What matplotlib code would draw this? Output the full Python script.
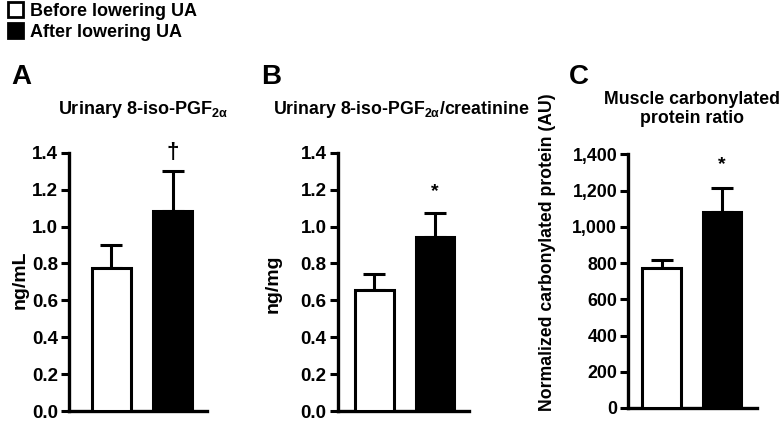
import matplotlib
matplotlib.use("Agg")
import matplotlib.pyplot as plt
from matplotlib.patches import Patch
from matplotlib.ticker import FuncFormatter

plt.rcParams['font.family'] = ['Liberation Sans', 'DejaVu Sans']
plt.rcParams['font.weight'] = 'bold'
plt.rcParams['mathtext.default'] = 'regular'

groups = ["Before lowering UA", "After lowering UA"]
colors = ["white", "black"]

a_means = [0.777, 1.086]
a_err = [0.125, 0.215]
b_means = [0.655, 0.945]
b_err = [0.09, 0.128]
c_means = [772, 1082]
c_err = [42, 133]

a_ticks = [0.0, 0.2, 0.4, 0.6, 0.8, 1.0, 1.2, 1.4]
c_ticks = [0, 200, 400, 600, 800, 1000, 1200, 1400]

W, H = 780, 422
fig = plt.figure(figsize=(7.8, 4.22), dpi=100)

def fx(px):
    return px / W

def fy(py):
    return 1 - py / H

def make_ax(left, right, top, bottom):
    return fig.add_axes([fx(left), fy(bottom), fx(right) - fx(left), fy(top) - fy(bottom)])

axA = make_ax(69, 207, 152.7, 411)
axB = make_ax(337.7, 469, 152.7, 411)
axC = make_ax(628.3, 757, 154.3, 408)

def draw(ax, means, errs, ymax, ticks, xlim, mark, mark_y, mark_size, fmt, tsize):
    x = [0, 1]
    ax.bar(x, means, width=0.64, color=colors, edgecolor="black", linewidth=2.2, zorder=3)
    ax.errorbar(x, means, yerr=[[0, 0], errs], fmt='none', ecolor='black',
                elinewidth=2.2, capsize=8, capthick=2.2, zorder=2)
    ax.set_ylim(0, ymax)
    ax.set_xlim(*xlim)
    ax.set_yticks(ticks)
    ax.yaxis.set_major_formatter(FuncFormatter(fmt))
    ax.set_xticks([])
    for s in ["top", "right"]:
        ax.spines[s].set_visible(False)
    for s in ["left", "bottom"]:
        ax.spines[s].set_linewidth(2.4)
    ax.tick_params(axis='y', length=6, width=2.2, labelsize=tsize, pad=2)
    for lab in ax.get_yticklabels():
        lab.set_fontweight('bold')
    ax.text(1, mark_y, mark, ha='center', va='center', fontsize=mark_size, fontweight='bold')
    ax.patch.set_visible(False)

draw(axA, a_means, a_err, 1.4, a_ticks, (-0.69, 1.56), "†", 1.40, 16, lambda v, p: f"{v:.1f}", 13.5)
draw(axB, b_means, b_err, 1.4, a_ticks, (-0.6, 1.56), "*", 1.19, 14, lambda v, p: f"{v:.1f}", 13.5)
draw(axC, c_means, c_err, 1400, c_ticks, (-0.55, 1.58), "*", 1345, 14, lambda v, p: f"{int(v):,}", 12.8)

fig.text(fx(20), fy(280), "ng/mL", rotation=90, ha='center', va='center', fontsize=14, fontweight='bold')
fig.text(fx(273), fy(284), "ng/mg", rotation=90, ha='center', va='center', fontsize=14, fontweight='bold')
fig.text(fx(548), fy(252), "Normalized carbonylated protein (AU)", rotation=90, ha='center', va='center',
         fontsize=12.7, fontweight='bold')

fig.text(fx(143), fy(109), "Urinary 8-iso-PGF$_{2α}$", ha='center', va='center', fontsize=13, fontweight='bold')
fig.text(fx(401), fy(109), "Urinary 8-iso-PGF$_{2α}$/creatinine", ha='center', va='center', fontsize=12.8, fontweight='bold')
fig.text(fx(692), fy(109), "Muscle carbonylated\nprotein ratio", ha='center', va='center', fontsize=12.8, fontweight='bold', linespacing=1.15)

fig.text(fx(11), fy(77), "A", ha='left', va='center', fontsize=20, fontweight='bold')
fig.text(fx(261), fy(77), "B", ha='left', va='center', fontsize=20, fontweight='bold')
fig.text(fx(569), fy(77), "C", ha='left', va='center', fontsize=20, fontweight='bold')

handles = [Patch(facecolor=c, edgecolor='black', linewidth=2) for c in colors]
fig.legend(handles, groups, loc='upper left', bbox_to_anchor=(-0.006, 1.025), frameon=False,
           prop={'size': 13, 'weight': 'bold'}, handlelength=0.85, handleheight=0.9,
           handletextpad=0.35, labelspacing=0.2, borderpad=0.2)

fig.savefig("out.png", dpi=100)
